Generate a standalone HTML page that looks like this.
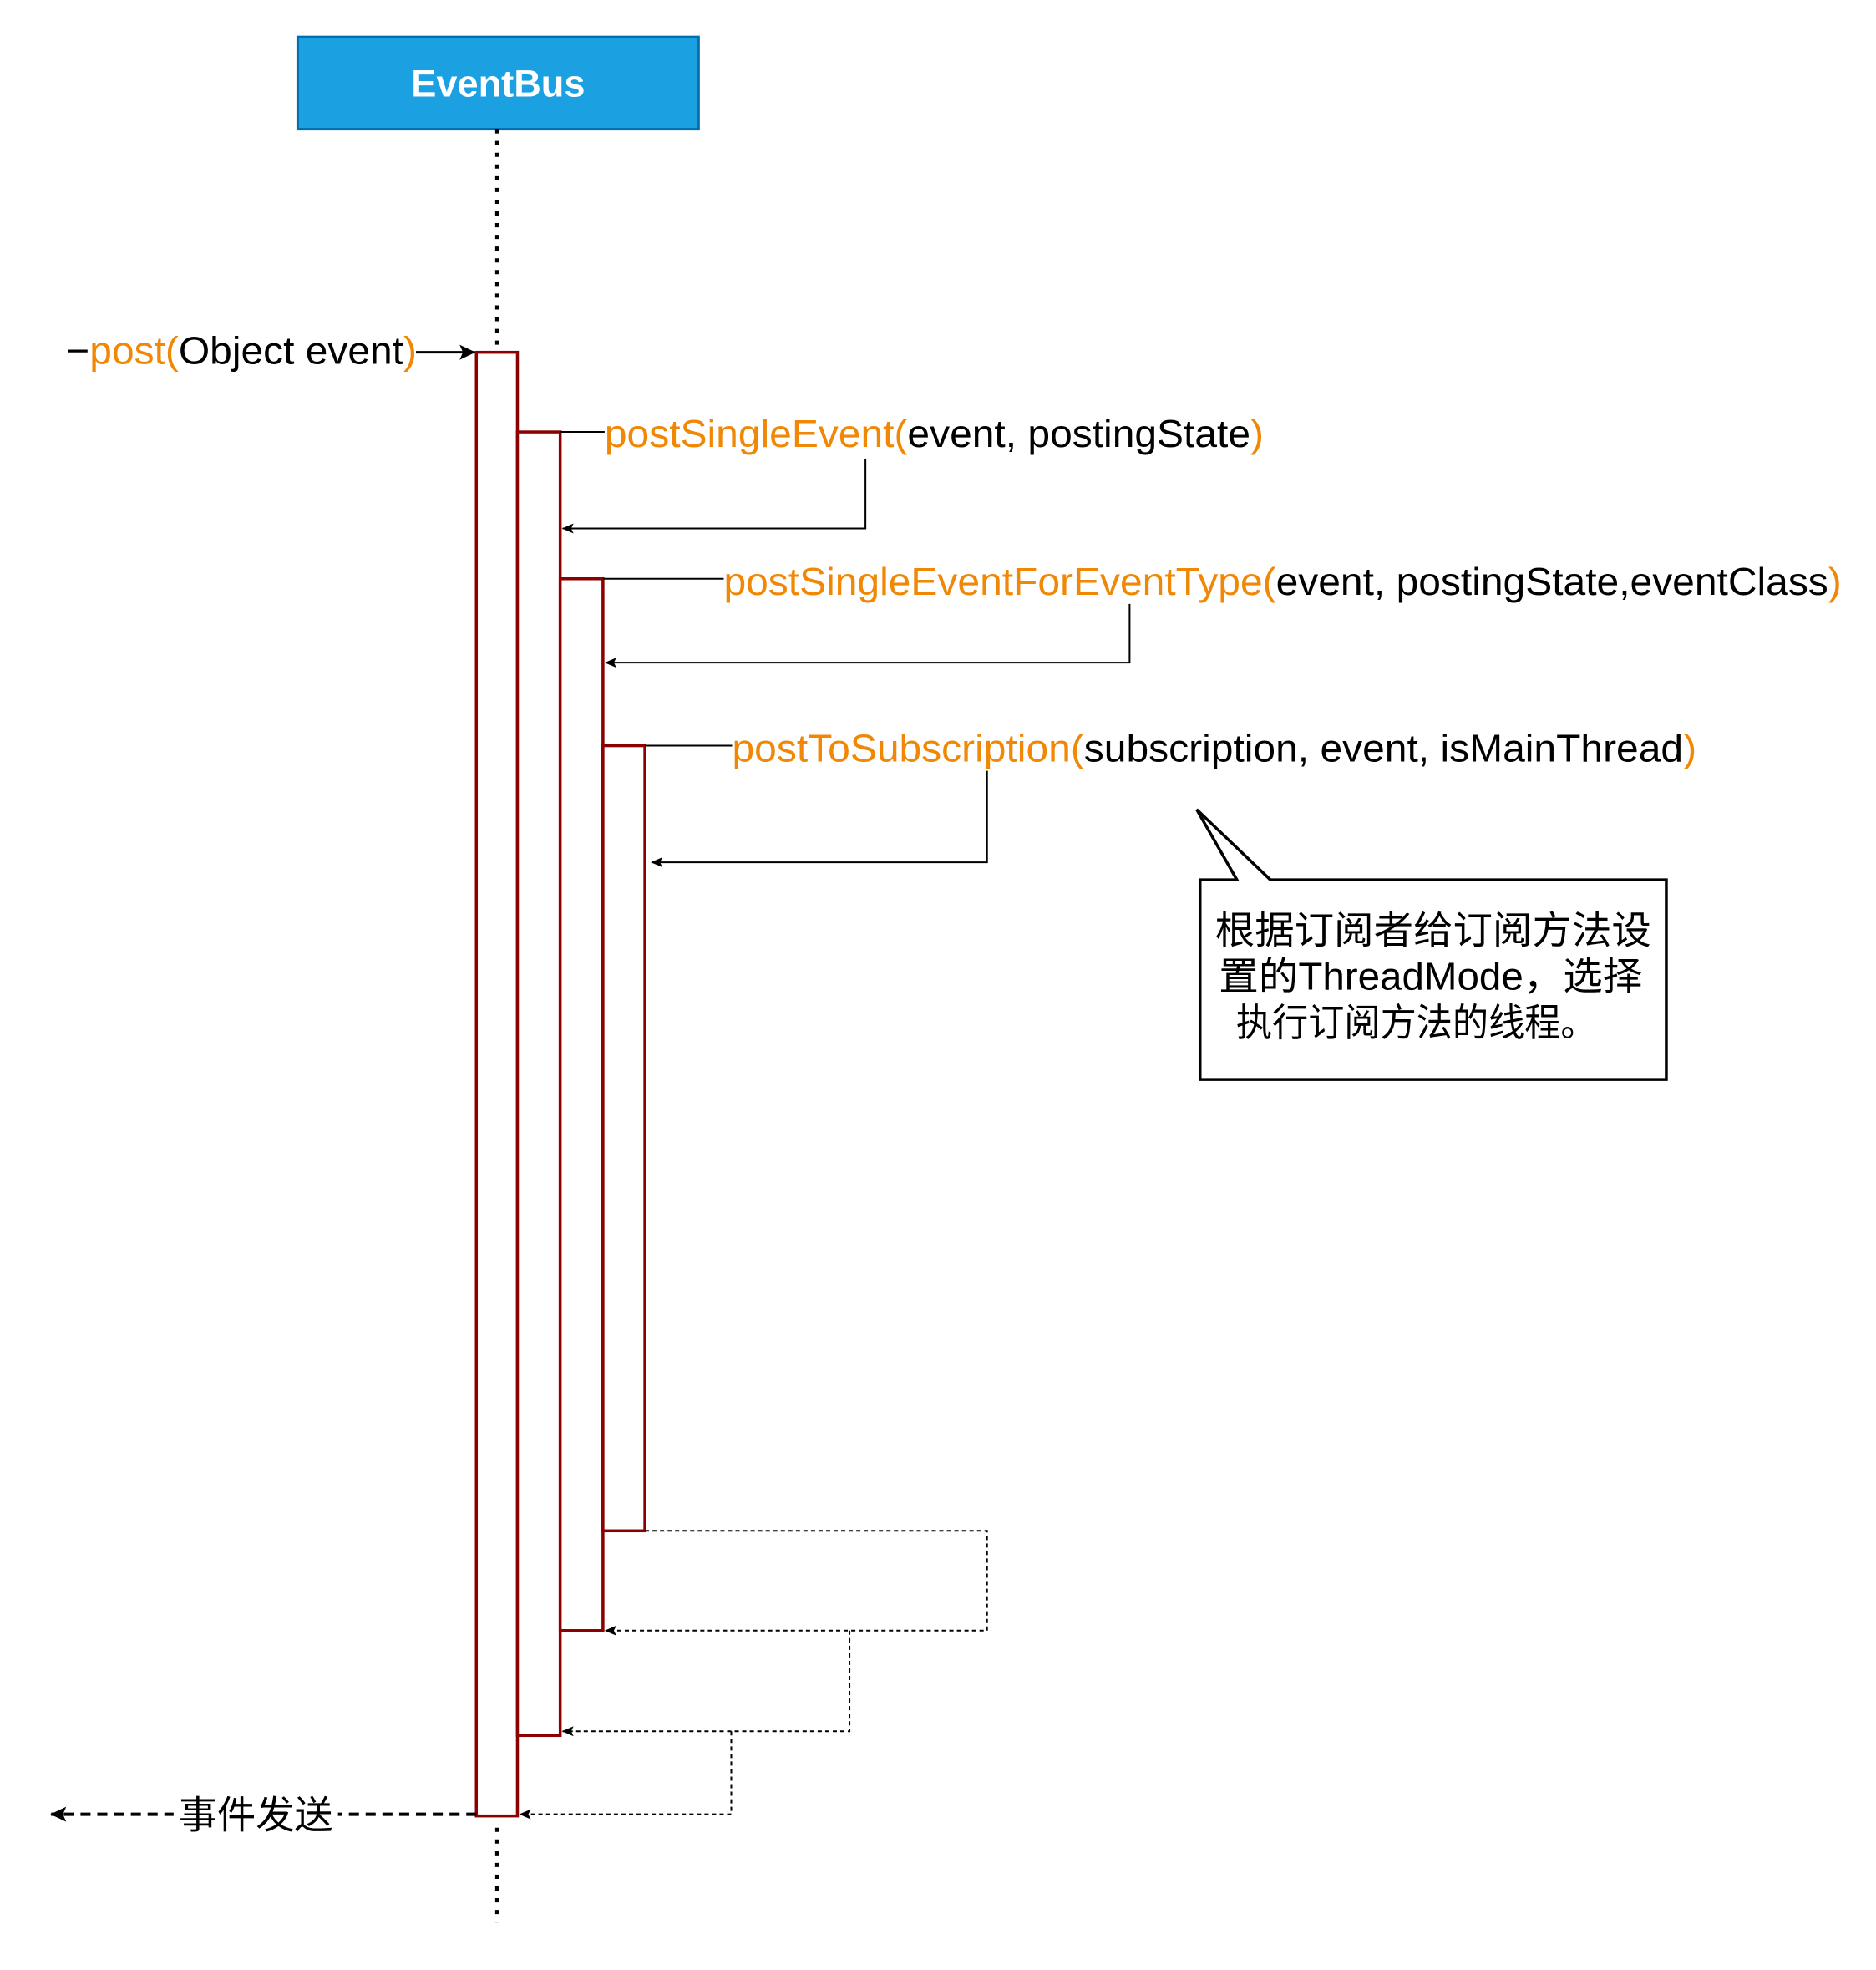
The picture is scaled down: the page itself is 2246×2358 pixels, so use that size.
<!DOCTYPE html>
<html><head><meta charset="utf-8"><style>html,body{margin:0;padding:0;background:#fff}svg{display:block}</style></head>
<body>
<svg width="2246" height="2358" viewBox="0 0 2246 2358" xmlns="http://www.w3.org/2000/svg" font-family="Liberation Sans, Noto Sans CJK SC, sans-serif">
<defs>
<marker id="ah" markerWidth="14" markerHeight="14" refX="13" refY="7" orient="auto" markerUnits="userSpaceOnUse"><path d="M0,1 L14,7 L0,13 L3,7 z" fill="#000"/></marker>
<marker id="ahb" markerWidth="20" markerHeight="20" refX="18" refY="10" orient="auto" markerUnits="userSpaceOnUse"><path d="M0,1 L19,10 L0,19 L4,10 z" fill="#000"/></marker>
</defs>
<g transform="translate(-1,1) scale(1.004)">
<rect x="356" y="43" width="478" height="110" fill="#1ba1e2" stroke="#006eaf" stroke-width="3"/>
<text x="595" y="114" font-size="45" font-weight="bold" fill="#fff" text-anchor="middle">EventBus</text>
<line x1="594" y1="153" x2="594" y2="419" stroke="#000" stroke-width="5" stroke-dasharray="5,9"/>
<line x1="594" y1="2178" x2="594" y2="2291" stroke="#000" stroke-width="5" stroke-dasharray="5,9"/>
<g fill="#fff" stroke="#8b0000" stroke-width="3.5">
<rect x="569" y="419" width="49" height="1745"/>
<rect x="618" y="514" width="51" height="1554"/>
<rect x="669" y="689" width="51" height="1254"/>
<rect x="720" y="888" width="50" height="936"/>
</g>
<text x="80" y="433" font-size="46" textLength="418" lengthAdjust="spacingAndGlyphs"><tspan fill="#000">−</tspan><tspan fill="#f08705">post(</tspan><tspan fill="#000">Object event</tspan><tspan fill="#f08705">)</tspan></text>
<line x1="497" y1="419" x2="567" y2="419" stroke="#000" stroke-width="3" marker-end="url(#ahb)"/>
<line x1="669" y1="514" x2="722" y2="514" stroke="#000" stroke-width="2"/>
<text x="722" y="532" font-size="46" textLength="786" lengthAdjust="spacingAndGlyphs"><tspan fill="#f08705">postSingleEvent(</tspan><tspan fill="#000">event, postingState</tspan><tspan fill="#f08705">)</tspan></text>
<polyline points="1033,546 1033,629 672,629" fill="none" stroke="#000" stroke-width="2" marker-end="url(#ah)"/>
<line x1="720" y1="689" x2="864" y2="689" stroke="#000" stroke-width="2"/>
<text x="864" y="708" font-size="46" textLength="1333" lengthAdjust="spacingAndGlyphs"><tspan fill="#f08705">postSingleEventForEventType(</tspan><tspan fill="#000">event, postingState,eventClass</tspan><tspan fill="#f08705">)</tspan></text>
<polyline points="1348,719 1348,789 723,789" fill="none" stroke="#000" stroke-width="2" marker-end="url(#ah)"/>
<line x1="770" y1="888" x2="874" y2="888" stroke="#000" stroke-width="2"/>
<text x="874" y="907" font-size="46" textLength="1150" lengthAdjust="spacingAndGlyphs"><tspan fill="#f08705">postToSubscription(</tspan><tspan fill="#000">subscription, event, isMainThread</tspan><tspan fill="#f08705">)</tspan></text>
<polyline points="1178,918 1178,1027 778,1027" fill="none" stroke="#000" stroke-width="2" marker-end="url(#ah)"/>
<path d="M1432,1048 L1476,1048 L1428,964 L1516,1048 L1988,1048 L1988,1286 L1432,1286 Z" fill="#fff" stroke="#000" stroke-width="3.5" stroke-linejoin="miter"/>
<g font-size="46" fill="#000" text-anchor="middle">
<text x="1710" y="1124" textLength="520" lengthAdjust="spacingAndGlyphs">根据订阅者给订阅方法设</text>
<text x="1707" y="1179" textLength="505" lengthAdjust="spacingAndGlyphs">置的ThreadMode，选择</text>
<text x="1690" y="1234" textLength="430" lengthAdjust="spacingAndGlyphs">执行订阅方法的线程。</text>
</g>
<g fill="none" stroke="#000" stroke-width="2" stroke-dasharray="5,4">
<polyline points="770,1824 1178,1824 1178,1943 723,1943" marker-end="url(#ah)"/>
<polyline points="1014,1943 1014,2063 672,2063" marker-end="url(#ah)"/>
<polyline points="873,2063 873,2162 621,2162" marker-end="url(#ah)"/>
</g>
<line x1="569" y1="2162" x2="62" y2="2162" stroke="#000" stroke-width="4" stroke-dasharray="12,8" marker-end="url(#ahb)"/>
<rect x="208" y="2135" width="196" height="56" fill="#fff"/>
<text x="306" y="2179" font-size="46" text-anchor="middle" fill="#000">事件发送</text>
</g>
</svg>
</body></html>
